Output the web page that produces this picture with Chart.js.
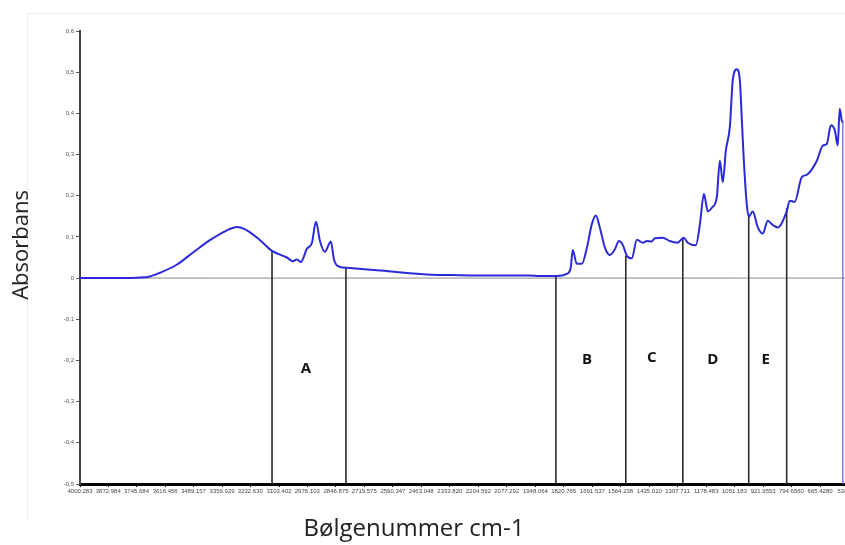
<!DOCTYPE html>
<html>
<head>
<meta charset="utf-8">
<script src="https://cdn.jsdelivr.net/npm/chart.js@4.4.1/dist/chart.umd.min.js"></script>
<style>
  html, body { margin: 0; padding: 0; overflow: hidden; background: #fff; }
  #wrap { width: 900px; height: 545px; }
</style>
</head>
<body>
<div id="wrap"><canvas id="c" width="900" height="545"></canvas></div>
<script>
// ---- data ----
const wavenumbers = [4000.283, 3900, 3800, 3743, 3685, 3640, 3563, 3491, 3415, 3338,
  3293, 3248, 3189, 3135, 3068, 3041, 3023, 3005, 2978, 2955,
  2937, 2919, 2897, 2870, 2856, 2838, 2798, 2662, 2437, 2289,
  2100, 1973, 1928, 1852, 1807, 1789, 1780, 1762, 1739, 1716,
  1694, 1676, 1658, 1635, 1613, 1590, 1572, 1554, 1536, 1514,
  1491, 1464, 1446, 1424, 1410, 1374, 1343, 1307, 1280, 1262,
  1225, 1207, 1189, 1171, 1153, 1131, 1117, 1104, 1090, 1072,
  1059, 1041, 1027, 1018, 1009, 996, 987, 969, 946, 924,
  901, 879, 856, 816, 802, 780, 748, 725, 680, 653,
  635, 617, 599, 586, 577, 568, 563];
const absorbance = [0, 0, 0, 0.001, 0.004, 0.013, 0.033, 0.062, 0.092, 0.116,
  0.124, 0.116, 0.092, 0.066, 0.050, 0.041, 0.045, 0.039, 0.071, 0.086,
  0.137, 0.090, 0.064, 0.089, 0.046, 0.029, 0.025, 0.019, 0.009, 0.007,
  0.006, 0.006, 0.005, 0.005, 0.010, 0.025, 0.068, 0.035, 0.035, 0.074,
  0.131, 0.152, 0.123, 0.074, 0.056, 0.070, 0.090, 0.080, 0.054, 0.048,
  0.093, 0.086, 0.090, 0.089, 0.097, 0.098, 0.090, 0.086, 0.098, 0.086,
  0.080, 0.131, 0.204, 0.162, 0.171, 0.196, 0.285, 0.233, 0.310, 0.367,
  0.480, 0.507, 0.480, 0.383, 0.285, 0.180, 0.149, 0.162, 0.123, 0.108,
  0.139, 0.129, 0.123, 0.162, 0.188, 0.185, 0.245, 0.251, 0.285, 0.322,
  0.326, 0.371, 0.359, 0.322, 0.411, 0.383, 0.378];

const xTickLabels = ['4000.283','3872.984','3745.684','3616.456','3489.157','3359.929','3232.630',
  '3103.402','2976.103','2846.875','2719.575','2590.347','2463.048','2333.820','2204.592',
  '2077.292','1948.064','1820.765','1691.537','1564.238','1435.010','1307.711','1178.483',
  '1051.183','921.9553','794.6560','665.4280','538.128'];
const yTickValues = [0.6, 0.5, 0.4, 0.3, 0.2, 0.1, 0, -0.1, -0.2, -0.3, -0.4, -0.5];

const separatorWavenumbers = [3135, 2802, 1856, 1541, 1284, 987, 816];
const separatorTops = [0.066, 0.026, 0.005, 0.054, 0.097, 0.149, 0.170];
const regionNames = ['A', 'B', 'C', 'D', 'E'];
const regionWavenumbers = [2982, 1716, 1424, 1149, 910];
const regionLevels = [-0.22, -0.198, -0.193, -0.198, -0.198];

const xMin = 400, xMax = 4000.283, yMin = -0.5, yMax = 0.6;
const endWavenumber = wavenumbers[wavenumbers.length - 1];
const endValue = absorbance[absorbance.length - 1];

// ---- datasets ----
const spectrum = wavenumbers.map((w, i) => ({ x: w, y: absorbance[i] }));
const datasets = [];
datasets.push({
  data: [{ x: xMax, y: 0 }, { x: xMin, y: 0 }],
  borderColor: '#8a8a8a', borderWidth: 1, pointRadius: 0, order: 5
});
separatorWavenumbers.forEach((w, i) => {
  datasets.push({
    data: [{ x: w, y: separatorTops[i] }, { x: w, y: yMin }],
    borderColor: '#2a2a2a', borderWidth: 1.6, pointRadius: 0, order: 4
  });
});
datasets.push({
  data: [{ x: endWavenumber, y: endValue }, { x: endWavenumber, y: yMin }],
  borderColor: 'rgba(110,110,235,0.7)', borderWidth: 1, pointRadius: 0, order: 3
});
datasets.push({
  data: spectrum,
  borderColor: '#2a2ad8', borderWidth: 2, pointRadius: 0,
  cubicInterpolationMode: 'monotone', order: 1
});

// ---- plugin for titles, frame and region letters ----
const decor = {
  id: 'decor',
  beforeDraw(chart) {
    const ctx = chart.ctx;
    ctx.save();
    ctx.strokeStyle = '#ececec';
    ctx.lineWidth = 1;
    ctx.beginPath();
    ctx.moveTo(27.5, 518); ctx.lineTo(27.5, 13.5); ctx.lineTo(900, 13.5);
    ctx.stroke();
    ctx.restore();
  },
  afterDraw(chart) {
    const ctx = chart.ctx;
    const xs = chart.scales.x, ys = chart.scales.y;
    ctx.save();
    ctx.fillStyle = '#111';
    ctx.font = 'bold 15px "Open Sans", sans-serif';
    ctx.textAlign = 'center';
    ctx.textBaseline = 'middle';
    regionNames.forEach((n, i) => {
      ctx.fillText(n, xs.getPixelForValue(regionWavenumbers[i]), ys.getPixelForValue(regionLevels[i]));
    });
    ctx.fillStyle = '#222';
    ctx.font = '24px "Open Sans", sans-serif';
    ctx.fillText('Bølgenummer cm-1', 414, 529);
    ctx.font = '22px "Open Sans", sans-serif';
    ctx.translate(22, 245);
    ctx.rotate(-Math.PI / 2);
    ctx.fillText('Absorbans', 0, 0);
    ctx.restore();
  }
};

new Chart(document.getElementById('c'), {
  type: 'line',
  data: { datasets },
  plugins: [decor],
  options: {
    responsive: false,
    devicePixelRatio: 1,
    animation: false,
    layout: { padding: { left: 0, top: 31, right: 21, bottom: 0 } },
    plugins: { legend: { display: false }, tooltip: { enabled: false } },
    scales: {
      x: {
        type: 'linear', reverse: true, min: xMin, max: xMax,
        afterBuildTicks(scale) {
          scale.ticks = xTickLabels.map(s => ({ value: parseFloat(s) }));
        },
        afterFit(scale) { scale.height = 61; },
        ticks: {
          autoSkip: false, maxRotation: 0, minRotation: 0, padding: 1,
          color: '#444', font: { family: 'Liberation Sans', size: 6 },
          callback: (v, i) => xTickLabels[i]
        },
        grid: { drawOnChartArea: false, tickLength: 3, tickColor: '#000' },
        border: { color: '#000', width: 3 }
      },
      y: {
        min: yMin, max: yMax,
        afterBuildTicks(scale) {
          scale.ticks = yTickValues.map(v => ({ value: v }));
        },
        afterFit(scale) { scale.width = 80; },
        ticks: {
          padding: 2, color: '#555', font: { family: 'Liberation Sans', size: 6 },
          callback: v => (Math.abs(v) < 1e-9 ? '0' : v.toFixed(1).replace('.', ','))
        },
        grid: { drawOnChartArea: false, tickLength: 4, tickColor: '#555' },
        border: { color: '#444', width: 2 }
      }
    }
  }
});
</script>
</body>
</html>
